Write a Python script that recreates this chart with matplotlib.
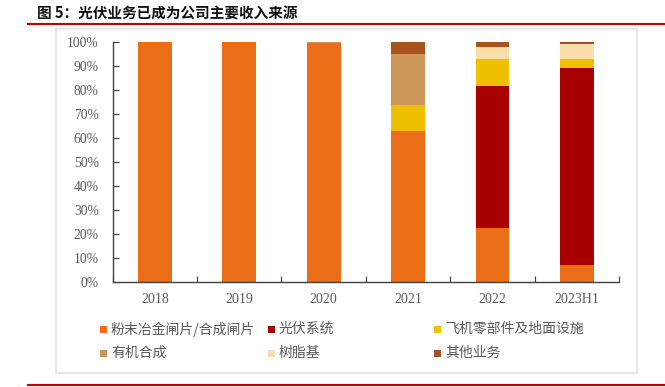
import numpy as np
import matplotlib
matplotlib.use("Agg")
import matplotlib.pyplot as plt
from matplotlib.patches import Rectangle
from matplotlib.lines import Line2D

plt.rcParams["font.family"] = ["Noto Sans CJK SC", "DejaVu Sans"]

years = ["2018", "2019", "2020", "2021", "2022", "2023H1"]
series_names = ["粉末冶金闸片/合成闸片", "光伏系统", "飞机零部件及地面设施",
                "有机合成", "树脂基", "其他业务"]
powder = [100.0, 100.0, 99.5, 62.9, 22.6, 7.0]
solar = [0.0, 0.0, 0.0, 0.0, 59.3, 82.4]
aircraft = [0.0, 0.0, 0.0, 11.0, 11.1, 3.6]
organic = [0.0, 0.0, 0.5, 21.4, 0.0, 0.0]
resin = [0.0, 0.0, 0.0, 0.0, 4.9, 6.4]
other = [0.0, 0.0, 0.0, 4.7, 2.1, 0.6]
colors = ["#EB6D17", "#A80000", "#EEC000", "#CD9757", "#F8DFAA", "#A9521E"]

series = [powder, solar, aircraft, organic, resin, other]
gray = "#595959"
serif = ["Liberation Serif", "DejaVu Serif"]

fig = plt.figure(figsize=(6.65, 3.87), dpi=100)

# frame and header lines
fig.patches.append(Rectangle((56 / 665, 1 - 373 / 387), 581 / 665, 344 / 387,
                             transform=fig.transFigure, fill=False,
                             edgecolor="#e3e3e3", linewidth=1.2))
fig.add_artist(Line2D([28 / 665, 1], [1 - 24 / 387] * 2, color="#C00000", lw=1.5))
fig.add_artist(Line2D([28 / 665, 1], [1 - 385 / 387] * 2, color="#C00000", lw=1.5))
fig.text(37 / 665, 1 - 14 / 387, "图 5：光伏业务已成为公司主要收入来源",
         fontsize=10.5, fontweight="bold", color="#111111", va="center", ha="left")

ax = fig.add_axes([112.7 / 665, 1 - 281.7 / 387, (619 - 112.7) / 665, (281.7 - 42.3) / 387])
x = np.arange(len(years))
bottom = np.zeros(len(years))
for vals, c, name in zip(series, colors, series_names):
    vals = np.array(vals)
    ax.bar(x, vals, 0.4, bottom=bottom, color=c, label=name, linewidth=0)
    bottom += vals

ax.set_xlim(-0.5, len(years) - 0.5)
ax.set_ylim(0, 100)
ax.set_yticks(np.arange(0, 101, 10))
ax.set_yticklabels([f"{v}%" for v in range(0, 101, 10)], family=serif,
                   fontsize=9.8, color=gray)
ax.set_xticks(np.arange(len(years) + 1) - 0.5)
ax.set_xticklabels([])
ax.set_xticks(x, minor=True)
ax.set_xticklabels(years, minor=True, family=serif, fontsize=10, color=gray)
ax.tick_params(axis="x", which="major", direction="in", length=4, color="#404040")
ax.tick_params(axis="x", which="minor", length=0, pad=8)
ax.tick_params(axis="y", direction="in", length=4, color="#404040", pad=10)
for s in ["top", "right"]:
    ax.spines[s].set_visible(False)
for s in ["left", "bottom"]:
    ax.spines[s].set_color("#404040")
    ax.spines[s].set_linewidth(1.0)

# legend, 3 columns x 2 rows
col_x = [103, 271, 437]
row_y = [329, 353]
for i, (name, c) in enumerate(zip(series_names, colors)):
    cx = col_x[i % 3]
    cy = row_y[i // 3]
    fig.patches.append(Rectangle(((cx - 3.5) / 665, 1 - (cy + 3.5) / 387), 7 / 665, 7 / 387,
                                 transform=fig.transFigure, facecolor=c, edgecolor="none"))
    fig.text((cx + 8) / 665, 1 - cy / 387, name, fontsize=10, color=gray,
             va="center", ha="left")

fig.savefig("out.png", dpi=100)
